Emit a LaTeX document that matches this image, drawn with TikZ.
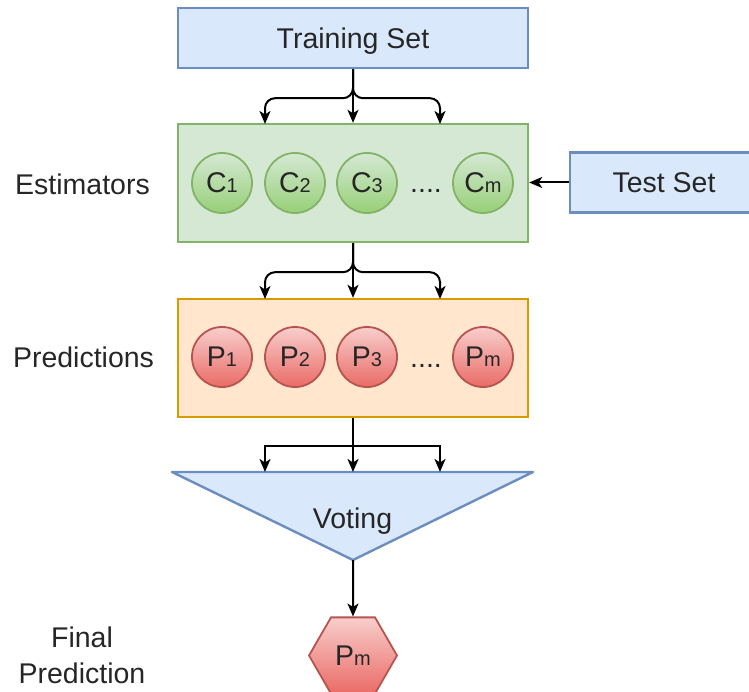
\documentclass[tikz,border=0pt]{standalone}
\usepackage{fontspec}
\setmainfont{Liberation Sans}
\usetikzlibrary{positioning,arrows.meta,shapes.geometric,calc}

\definecolor{blueFill}{HTML}{DAE8FC}
\definecolor{blueLine}{HTML}{6C8EBF}
\definecolor{greenFill}{HTML}{D5E8D4}
\definecolor{greenLine}{HTML}{82B366}
\definecolor{greenDark}{HTML}{97D077}
\definecolor{orangeFill}{HTML}{FFE6CC}
\definecolor{orangeLine}{HTML}{D79B00}
\definecolor{redFill}{HTML}{F8CECC}
\definecolor{redDark}{HTML}{EA6B66}
\definecolor{redLine}{HTML}{B85450}

\newcommand{\idx}[1]{{\fontsize{20}{20}\selectfont #1}}

\begin{document}
\begin{tikzpicture}[x=1pt, y=-1pt,
  every node/.style={font=\fontsize{28.5}{36}\selectfont, text=black!85},
  box/.style={draw, rectangle, line width=2.4pt, minimum width=350pt, inner sep=0pt, text depth=0pt},
  setbox/.style={box, draw=blueLine, fill=blueFill, minimum height=60pt},
  group/.style={box, minimum height=118pt},
  estc/.style={draw=greenLine, circle, line width=1.8pt, top color=greenFill, bottom color=greenDark, minimum size=60pt, inner sep=0pt},
  predc/.style={draw=redLine, circle, line width=1.8pt, top color=redFill, bottom color=redDark, minimum size=60pt, inner sep=0pt},
  dots/.style={anchor=base, inner sep=0pt},
  lbl/.style={align=center, inner sep=0pt},
  arr/.style={-{Stealth[length=13pt, width=11pt, inset=3.5pt]}, line width=2pt},
]
  \useasboundingbox (0,0) rectangle (749,692);

  % boxes
  \node[setbox] (trainset) at (353,38) {Training Set};
  \node[group, draw=greenLine, fill=greenFill] (estim) at (353,183) {};
  \node[group, draw=orangeLine, fill=orangeFill] (pred) at (353,358) {};
  \node[setbox, minimum width=188pt] (testset) at (664,182.5) {Test Set};

  % estimators and predictions
  \node[estc] (c1) at (222,183) {C\idx{1}};
  \node[estc] (c2) at (295,183) {C\idx{2}};
  \node[estc] (c3) at (367,183) {C\idx{3}};
  \node[dots] (cdots) at (426,193) {....};
  \node[estc] (cm) at (483,183) {C\idx{m}};

  \node[predc] (p1) at (222,357) {P\idx{1}};
  \node[predc] (p2) at (295,357) {P\idx{2}};
  \node[predc] (p3) at (367,357) {P\idx{3}};
  \node[dots] (pdots) at (426,367) {....};
  \node[predc] (pm) at (483,357) {P\idx{m}};

  % voting and result
  \coordinate (vtop) at (353,472);
  \coordinate (vapex) at (353,560);
  \draw[draw=blueLine, fill=blueFill, line width=2.4pt, line join=round] (172,472) -- (533,472) -- (vapex) -- cycle;
  \node[lbl, text depth=0pt] (voting) at (352.5,518) {Voting};
  \node[draw=redLine, regular polygon, regular polygon sides=6, line width=1.8pt, top color=redFill, bottom color=redDark, minimum size=88pt, inner sep=0pt] (final) at (353,655.5) {P\idx{m}};

  % side labels
  \node[lbl] (estlbl) at (82.5,184) {Estimators};
  \node[lbl] (predlbl) at (83.5,357) {Predictions};
  \node[lbl] (finallbl) at (82,655) {Final\\Prediction};

  % connectors
  \coordinate (e1) at (265,124);
  \coordinate (e3) at (440,124);
  \draw[arr, rounded corners=10pt] (trainset.south) -- ++(0,29) -| (e1);
  \draw[arr, rounded corners=10pt] (trainset.south) -- ++(0,29) -| (e3);
  \draw[arr] (trainset.south) -- (estim.north);

  \coordinate (f1) at (265,299);
  \coordinate (f3) at (440,299);
  \draw[arr, rounded corners=10pt] (estim.south) -- ++(0,29) -| (f1);
  \draw[arr, rounded corners=10pt] (estim.south) -- ++(0,29) -| (f3);
  \draw[arr] (estim.south) -- (pred.north);

  \coordinate (v1) at (265,472);
  \coordinate (v3) at (440,472);
  \draw[arr] (pred.south) -- ++(0,28) -| (v1);
  \draw[arr] (pred.south) -- ++(0,28) -| (v3);
  \draw[arr] (pred.south) -- (vtop);

  \draw[arr] (testset.west) -- (estim.east |- testset.west);
  \draw[arr] (vapex) -- (final.north);
\end{tikzpicture}
\end{document}
